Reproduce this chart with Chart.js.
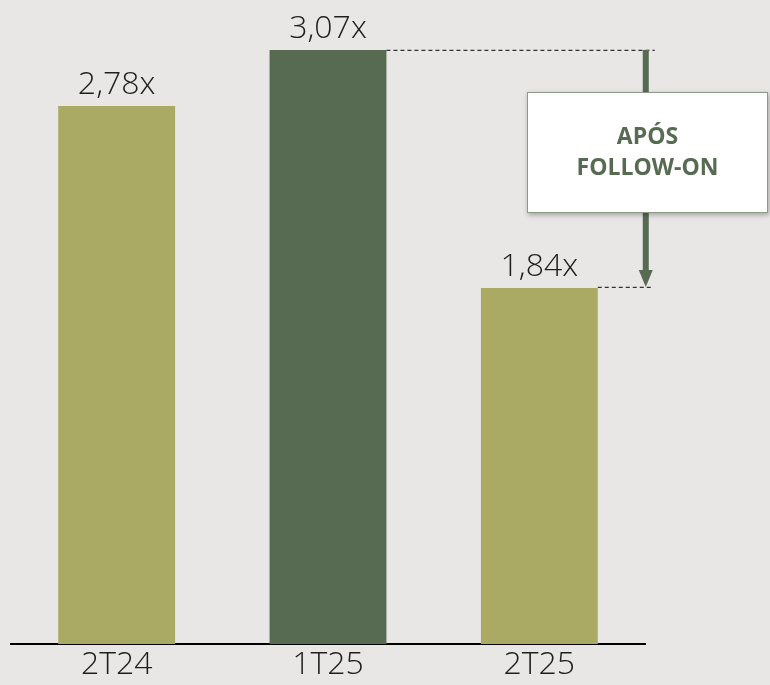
<!DOCTYPE html>
<html>
<head>
<meta charset="utf-8">
<script src="https://cdn.jsdelivr.net/npm/chart.js@4.4.1/dist/chart.umd.min.js"></script>
<style>
  html, body { margin: 0; padding: 0; background: #e8e7e5; }
  #wrap { width: 770px; height: 685px; }
</style>
</head>
<body>
<div id="wrap"><canvas id="chart"></canvas></div>
<script>
var periods = ['2T24', '1T25', '2T25'];
var leverage = [2.78, 3.07, 1.84];
var valueLabels = ['2,78x', '3,07x', '1,84x'];
var barColors = ['#abaa65', '#576b52', '#abaa65'];
var noteLines = ['APÓS', 'FOLLOW-ON'];

var green = '#576b52';
var font = '"Open Sans", sans-serif';

// value labels above bars + the "após follow-on" arrow
var extras = {
    id: 'extras',
    afterDatasetsDraw: function(chart){
        var c = chart.ctx;
        var bars = chart.getDatasetMeta(0).data;
        c.save();
        c.fillStyle = '#1e1e1e';
        c.font = '300 32px ' + font;
        c.textAlign = 'center';
        c.textBaseline = 'alphabetic';
        bars.forEach(function(b, i){
            c.fillText(valueLabels[i], b.x, b.y - 12);
        });

        var from = bars[1], to = bars[2];
        var ax = to.x + to.width / 2 + 48;
        // dashed guides
        c.strokeStyle = '#333';
        c.lineWidth = 1.2;
        c.setLineDash([4, 3]);
        c.beginPath();
        c.moveTo(from.x + from.width / 2, from.y + 0.5);
        c.lineTo(ax + 9, from.y + 0.5);
        c.moveTo(to.x + to.width / 2, to.y - 0.5);
        c.lineTo(ax + 6, to.y - 0.5);
        c.stroke();
        c.setLineDash([]);
        // arrow
        c.fillStyle = green;
        c.fillRect(ax - 3, from.y, 6, to.y - from.y - 16);
        c.beginPath();
        c.moveTo(ax - 7, to.y - 18);
        c.lineTo(ax + 7, to.y - 18);
        c.lineTo(ax, to.y - 1);
        c.closePath();
        c.fill();
        // note box
        var bx = 527, by = 92, bw = 241, bh = 121;
        c.shadowColor = 'rgba(0,0,0,0.3)';
        c.shadowBlur = 5;
        c.shadowOffsetX = 1;
        c.shadowOffsetY = 2;
        c.fillStyle = '#ffffff';
        c.fillRect(bx, by, bw, bh);
        c.shadowColor = 'transparent';
        c.strokeStyle = '#8a9a85';
        c.lineWidth = 1;
        c.strokeRect(bx + 0.5, by + 0.5, bw - 1, bh - 1);
        c.fillStyle = green;
        c.font = 'bold 23px ' + font;
        c.textBaseline = 'middle';
        c.fillText(noteLines[0], bx + bw / 2, 137);
        c.fillText(noteLines[1], bx + bw / 2, 168);
        c.restore();
    }
};

new Chart(document.getElementById('chart'), {
    type: 'bar',
    data: {
        labels: periods,
        datasets: [{
            data: leverage,
            backgroundColor: barColors,
            categoryPercentage: 1,
            barPercentage: 0.553
        }]
    },
    options: {
        responsive: true,
        maintainAspectRatio: false,
        animation: false,
        layout: { padding: { left: 11, right: 125, top: 0, bottom: 0 } },
        plugins: { legend: { display: false }, tooltip: { enabled: false } },
        scales: {
            x: {
                grid: { display: false, drawTicks: false },
                border: { display: true, color: '#000', width: 2 },
                ticks: { color: '#1e1e1e', font: { family: font, size: 32, weight: 300, lineHeight: 0.78 }, padding: 8 }
            },
            y: { display: false, min: 0, max: 3.328 }
        }
    },
    plugins: [extras]
});
</script>
</body>
</html>
